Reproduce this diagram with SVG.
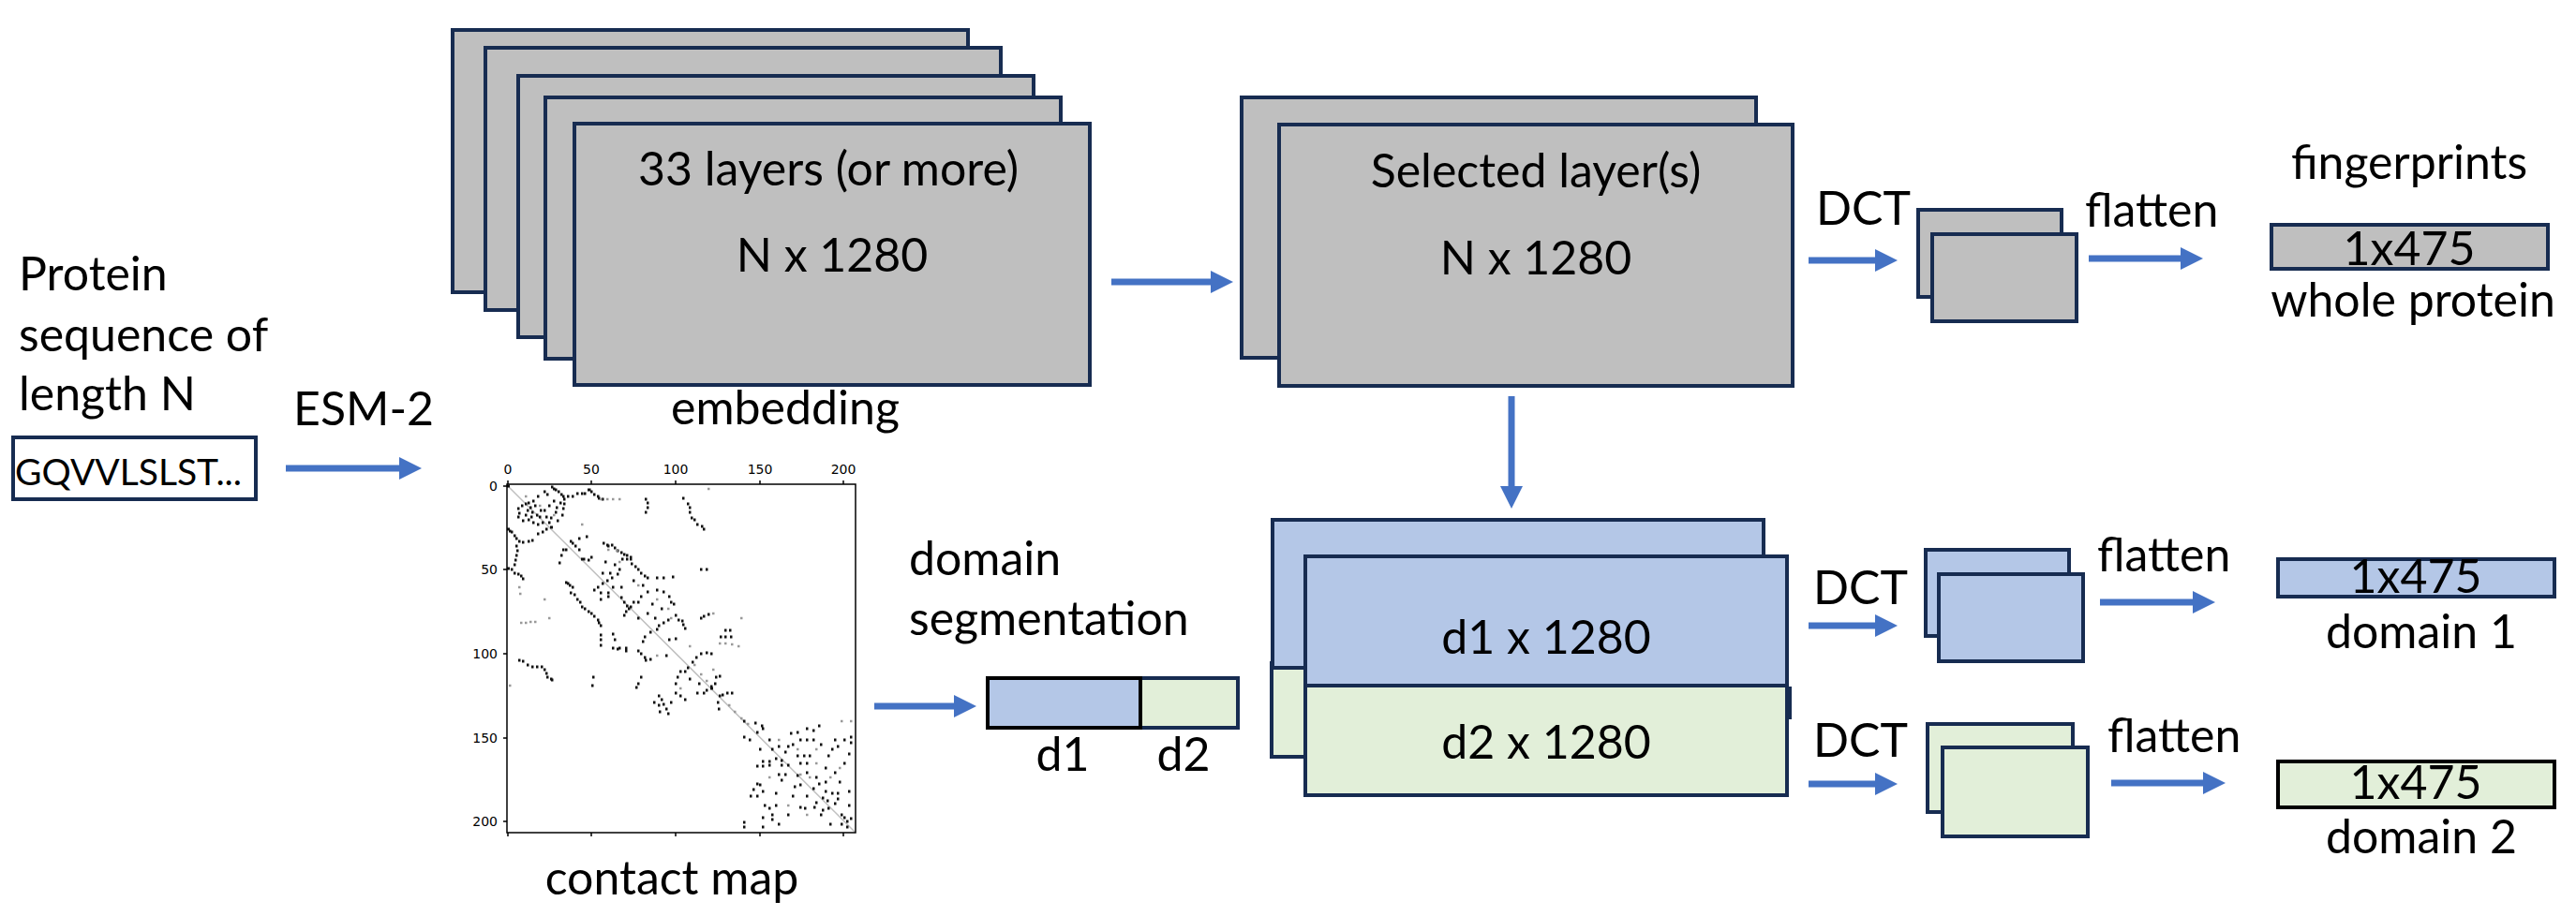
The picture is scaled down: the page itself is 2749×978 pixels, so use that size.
<svg xmlns="http://www.w3.org/2000/svg" width="2749" height="978" viewBox="0 0 2749 978">
<style>
.t{font-family:Lato,'Liberation Sans',sans-serif;font-size:50px;fill:#000}
.m{text-anchor:middle}
.gr{fill:#BFBFBF;stroke:#172C51;stroke-width:4}
.bl{fill:#B4C7E7;stroke:#172C51;stroke-width:4}
.gn{fill:#E2EFD9;stroke:#172C51;stroke-width:4}
.conn{stroke:#4472C4;stroke-width:7;fill:none;marker-end:url(#ah)}
.tk{font-family:'DejaVu Sans',sans-serif;font-size:14px;fill:#000}
.ax{stroke:#000;stroke-width:1.5;fill:none}
</style>
<defs>
<marker id="ah" markerUnits="userSpaceOnUse" markerWidth="26" markerHeight="26" viewBox="0 -13 26 26" refX="1" refY="0" orient="auto"><path d="M0,-12 L24,0 L0,12 z" fill="#4472C4"/></marker>
</defs>
<rect width="2749" height="978" fill="#fff"/>

<g id="protein-label">
<text class="t" x="20" y="310">Protein</text>
<text class="t" x="20" y="375">sequence of</text>
<text class="t" x="20" y="438">length N</text>
</g>

<g id="sequence">
<rect x="14" y="467" width="259" height="66" fill="#fff" stroke="#172C51" stroke-width="4"/>
<text class="t" x="16" y="518" style="font-size:39px">GQVVLSLST...</text>
</g>

<g id="embedding">
<rect class="gr" x="483" y="32" width="550" height="280"/>
<rect class="gr" x="518" y="51" width="550" height="280"/>
<rect class="gr" x="553" y="81" width="550" height="279"/>
<rect class="gr" x="582" y="104" width="550" height="279"/>
<rect class="gr" x="613" y="132" width="550" height="279"/>
<text class="t m" x="884" y="198">33 layers (or more)</text>
<text class="t m" x="888" y="290">N x 1280</text>
<text class="t m" x="838" y="453">embedding</text>
</g>

<g id="contact-map">
<line x1="541" y1="518" x2="912" y2="888" stroke="#c0c0c0" stroke-width="1.5"/>
<path stroke="#111" stroke-width="2.8" fill="none" d="M541 519h3M588 520h2.5M590 522h2.5M592 523h2.5M595 525h2.5M598 528h2.5M600 530h2.5M605 530h2.5M610 530h2.5M615 527h2.5M620 527h2.5M623 527h2.5M627 523h2.5M628 523h2.5M630 525h2.5M633 528h2.5M637 530h2.5M638 532h2.5M642 533h2.5M688 533h2.5M690 537h2.5M690 542h2.5M688 547h2.5M728 532h2.5M733 538h2.5M735 542h2.5M735 547h2.5M737 553h2.5M740 555h2.5M743 560h2.5M748 562h2.5M750 565h2.5M552 543h2.5M553 548h2.5M552 552h2.5M560 538h2.5M563 537h2.5M568 535h2.5M573 530h2.5M580 525h2.5M583 528h2.5M562 545h2.5M567 547h2.5M572 550h2.5M575 552h2.5M560 550h2.5M563 555h2.5M568 558h2.5M573 560h2.5M578 558h2.5M580 545h2.5M582 552h2.5M587 553h2.5M592 547h2.5M593 542h2.5M597 537h2.5M601 533h2.5M601 538h2.5M600 543h2.5M599 550h2.5M541 565h3M543 567h2.5M545 568h2.5M548 572h2.5M550 575h2.5M553 578h2.5M557 579h2.5M563 578h2.5M567 577h2.5M573 570h2.5M578 568h2.5M582 565h2.5M587 563h3M550 583h2.5M551 588h2.5M550 593h2.5M549 598h2.5M548 603h2.5M541 607h3M545 608h2.5M548 612h2.5M552 613h2.5M555 615h2.5M557 618h2.5M608 578h2.5M610 580h2.5M617 575h2.5M625 573h2.5M600 587h2.5M603 587h2.5M598 593h2.5M596 601h2.5M613 583h2.5M617 587h2.5M620 597h3M622 597h2.5M627 598h2.5M630 595h2.5M643 580h2.5M647 582h2.5M648 583h2.5M652 582h2.5M655 585h2.5M658 588h2.5M662 590h2.5M665 592h2.5M668 593h2.5M672 595h2.5M673 602h2.5M677 605h2.5M680 608h2.5M683 612h2.5M687 615h2.5M690 617h2.5M700 617h2.5M707 617h2.5M717 616h2.5M663 597h2.5M668 597h2.5M672 597h2.5M747 608h2.5M753 608h2.5M603 622h2.5M605 623h2.5M607 625h2.5M610 627h2.5M608 633h2.5M612 635h2.5M615 640h2.5M618 643h2.5M620 648h2.5M623 650h2.5M627 653h2.5M630 655h2.5M633 658h2.5M637 662h2.5M638 665h2.5M640 668h2.5M640 678h2.5M640 683h2.5M640 689h2.5M653 677h2.5M655 683h2.5M660 692h2.5M667 692h2.5M633 630h2.5M637 627h2.5M642 623h2.5M647 620h2.5M652 617h2.5M658 613h2.5M640 633h2.5M648 633h2.5M653 627h2.5M662 627h2.5M640 640h2.5M648 637h2.5M662 638h2.5M665 643h2.5M668 647h2.5M672 648h2.5M675 643h2.5M680 643h2.5M667 653h2.5M670 650h2.5M665 657h2.5M683 637h2.5M700 630h2.5M707 632h2.5M713 637h2.5M715 643h2.5M718 645h2.5M702 668h2.5M707 665h2.5M712 662h2.5M720 657h2.5M723 662h2.5M727 663h2.5M728 667h2.5M730 671h2.5M747 660h2.5M750 658h2.5M755 656h2.5M687 680h2.5M693 675h2.5M700 672h2.5M685 685h2.5M713 683h2.5M720 682h2.5M773 673h2.5M778 673h2.5M768 680h2.5M773 680h2.5M779 680h2.5M553 705h2.5M557 706h2.5M562 710h2.5M567 712h2.5M572 712h2.5M577 712h2.5M580 715h2.5M582 719h2.5M583 723h2.5M587 725h2.5M588 726h2.5M632 723h2.5M631 732h2.5M653 692h2.5M658 693h2.5M667 695h2.5M680 695h2.5M683 698h2.5M687 702h2.5M688 705h2.5M693 704h2.5M683 723h2.5M680 730h2.5M678 734h2.5M702 743h2.5M705 747h2.5M697 750h2.5M702 753h2.5M707 752h2.5M710 757h2.5M703 760h2.5M712 762h2.5M720 730h2.5M722 723h2.5M725 717h2.5M730 717h2.5M733 713h2.5M738 707h2.5M742 702h2.5M747 698h2.5M753 697h2.5M758 698h2.5M720 740h2.5M725 743h2.5M730 747h2.5M743 740h2.5M750 740h2.5M753 737h2.5M758 733h2.5M762 730h2.5M763 723h2.5M767 722h2.5M758 735h3M767 743h2.5M770 742h2.5M775 740h2.5M780 740h2.5M765 750h2.5M766 757h2.5M793 770h2.5M805 772h2.5M812 775h2.5M813 778h2.5M807 782h2.5M793 787h2.5M799 790h2.5M843 783h2.5M850 782h2.5M860 778h2.5M867 780h2.5M873 775h2.5M853 790h2.5M860 790h2.5M867 790h2.5M890 790h2.5M900 790h2.5M907 787h2.5M907 793h2.5M887 800h2.5M893 797h2.5M830 797h2.5M840 797h2.5M823 800h2.5M837 803h2.5M850 807h2.5M857 807h2.5M863 807h2.5M883 807h2.5M813 813h2.5M820 813h2.5M827 810h2.5M833 812h2.5M807 818h2.5M813 818h2.5M820 817h2.5M833 817h2.5M840 817h2.5M853 815h2.5M860 815h2.5M830 827h2.5M837 827h2.5M850 828h2.5M860 825h2.5M870 830h2.5M873 837h2.5M833 833h2.5M807 837h2.5M810 838h2.5M813 845h2.5M803 843h2.5M800 850h2.5M807 850h2.5M827 847h2.5M847 840h2.5M853 838h2.5M867 842h2.5M880 845h2.5M887 847h2.5M893 847h2.5M893 853h2.5M890 858h2.5M883 863h2.5M877 865h2.5M870 857h2.5M868 862h2.5M853 862h2.5M858 863h2.5M827 860h2.5M820 863h2.5M823 870h2.5M813 873h2.5M823 875h2.5M793 878h2.5M793 883h2.5M813 883h2.5M897 870h2.5M900 873h2.5M903 877h2.5M907 874h2.5M897 880h2.5M903 883h2.5M877 852h2.5M882 855h2.5M556 540h2.5M565 542h2.5M570 540h2.5M576 545h2.5M585 540h2.5M590 535h2.5M557 556h2.5M566 552h2.5M585 558h2.5M594 556h2.5M645 600h2.5M655 603h2.5M660 608h2.5M650 612h2.5M642 612h2.5M675 620h2.5M685 625h2.5M690 632h2.5M695 645h2.5M705 650h2.5M690 655h2.5M680 660h2.5M698 660h2.5M820 790h2.5M845 795h2.5M875 795h2.5M880 820h2.5M890 825h2.5M845 850h2.5M860 850h2.5M875 870h2.5M885 880h2.5M830 880h2.5M840 870h2.5M880 835h2.5M895 835h2.5M905 845h2.5M905 860h2.5M815 860h2.5M810 800h2.5M905 805h2.5M900 815h2.5M710 700h2.5M735 725h2.5M745 730h2.5M715 750h2.5"/>
<path stroke="#999" stroke-width="2.6" fill="none" d="M555 665h2.5M560 665h2.5M565 664h2.5M570 664h2.5M640 533h2.5M647 533h2.5M653 533h2.5M660 533h2.5M755 522h2.5M553 627h2.5M554 634h2.5M767 687h2.5M773 687h2.5M780 688h2.5M787 690h2.5M648 587h2.5M657 588h2.5M543 732h2.5M740 710h2.5M747 720h2.5M753 727h2.5M777 753h2.5M783 760h2.5M790 767h2.5M797 773h2.5M897 770h2.5M907 770h2.5M863 830h2.5M853 827h2.5M760 655h2.5M790 660h2.5M700 700h2.5M715 660h2.5M620 560h2.5M580 640h2.5M585 660h2.5M895 820h2.5M870 800h2.5M560 530h2.5M575 540h2.5M590 550h2.5M660 600h2.5M680 625h2.5M700 640h2.5M712 650h2.5M735 690h2.5M760 715h2.5M725 735h2.5M830 790h2.5M850 800h2.5M870 815h2.5M885 830h2.5M840 860h2.5M860 870h2.5M820 830h2.5"/>
<rect class="ax" x="541" y="517" width="372" height="372"/>
<path class="ax" d="M542 517v-4M631 517v-4M721 517v-4M811 517v-4M900 517v-4M542 889v4M631 889v4M721 889v4M811 889v4M900 889v4M541 519h-4M541 608h-4M541 698h-4M541 788h-4M541 877h-4"/>
<text class="tk m" x="542" y="506">0</text>
<text class="tk m" x="631" y="506">50</text>
<text class="tk m" x="721" y="506">100</text>
<text class="tk m" x="811" y="506">150</text>
<text class="tk m" x="900" y="506">200</text>
<text class="tk" x="531" y="524" text-anchor="end">0</text>
<text class="tk" x="531" y="613" text-anchor="end">50</text>
<text class="tk" x="531" y="703" text-anchor="end">100</text>
<text class="tk" x="531" y="793" text-anchor="end">150</text>
<text class="tk" x="531" y="882" text-anchor="end">200</text>
<text class="t m" x="717" y="955">contact map</text>
</g>

<g id="selected-layers">
<rect class="gr" x="1325" y="104" width="549" height="278"/>
<rect class="gr" x="1365" y="133" width="548" height="279"/>
<text class="t m" x="1639" y="200">Selected layer(s)</text>
<text class="t m" x="1639" y="293">N x 1280</text>
</g>

<g id="domain-segmentation">
<text class="t" x="970" y="614">domain</text>
<text class="t" x="970" y="678">segmentation</text>
<rect class="gn" x="1217" y="724" width="104" height="53"/>
<rect class="bl" x="1054" y="724" width="163" height="53" style="stroke:#000"/>
<text class="t m" x="1134" y="823">d1</text>
<text class="t m" x="1263" y="823">d2</text>
</g>

<g id="domain-layers">
<rect class="gn" x="1357" y="708" width="525" height="100"/>
<rect class="bl" x="1358" y="555" width="524" height="158"/>
<line x1="1910" y1="733" x2="1910" y2="768" stroke="#172C51" stroke-width="4"/>
<rect class="bl" x="1393" y="594" width="514" height="138"/>
<rect class="gn" x="1393" y="732" width="514" height="117"/>
<text class="t m" x="1650" y="698">d1 x 1280</text>
<text class="t m" x="1650" y="810">d2 x 1280</text>
</g>

<g id="dct-whole">
<rect class="gr" x="2047" y="224" width="153" height="93"/>
<rect class="gr" x="2062" y="250" width="154" height="93"/>
</g>
<g id="dct-domain1">
<rect class="bl" x="2055" y="587" width="153" height="92"/>
<rect class="bl" x="2069" y="613" width="154" height="93"/>
</g>
<g id="dct-domain2">
<rect class="gn" x="2057" y="773" width="155" height="94"/>
<rect class="gn" x="2073" y="798" width="155" height="95"/>
</g>

<g id="fp-whole">
<text class="t m" x="2571" y="191">fingerprints</text>
<rect class="gr" x="2424" y="240" width="295" height="47"/>
<text class="t m" x="2571" y="283">1x475</text>
<text class="t m" x="2575" y="338">whole protein</text>
</g>
<g id="fp-domain1">
<rect class="bl" x="2431" y="597" width="295" height="40"/>
<text class="t m" x="2578" y="633">1x475</text>
<text class="t m" x="2584" y="692">domain 1</text>
</g>
<g id="fp-domain2">
<rect class="gn" x="2431" y="813" width="295" height="49" style="stroke:#000"/>
<text class="t m" x="2578" y="853">1x475</text>
<text class="t m" x="2584" y="911">domain 2</text>
</g>

<g id="connectors">
<path class="conn" d="M305 500H427"/>
<path class="conn" d="M1186 301H1293"/>
<path class="conn" d="M1930 278H2002"/>
<path class="conn" d="M2229 276H2328"/>
<path class="conn" d="M1613 423V520"/>
<path class="conn" d="M933 754H1019"/>
<path class="conn" d="M1930 668H2002"/>
<path class="conn" d="M2241 643H2341"/>
<path class="conn" d="M1930 837H2002"/>
<path class="conn" d="M2253 836H2352"/>
<text class="t" x="313" y="454">ESM-2</text>
<text class="t" x="1938" y="240">DCT</text>
<text class="t" x="2225" y="242">flatten</text>
<text class="t" x="1935" y="645">DCT</text>
<text class="t" x="2238" y="610">flatten</text>
<text class="t" x="1935" y="808">DCT</text>
<text class="t" x="2249" y="803">flatten</text>
</g>
</svg>
